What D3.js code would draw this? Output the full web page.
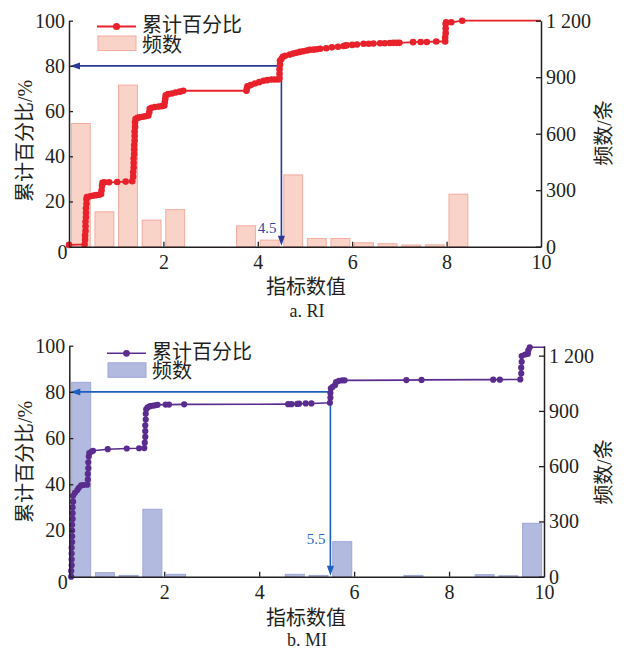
<!DOCTYPE html>
<html><head><meta charset="utf-8">
<script src="https://cdn.jsdelivr.net/npm/d3@7"></script>
<style>body{margin:0;background:#fff}</style>
</head><body><svg id="c" width="624" height="650"></svg>
<script>
// ---------- DATA ----------
const binCenters = [0.25,0.75,1.25,1.75,2.25,2.75,3.25,3.75,4.25,4.75,5.25,5.75,6.25,6.75,7.25,7.75,8.25,8.75,9.25,9.75];
const riCounts = [654,185,858,141,197,0,0,111,35,381,44,44,21,16,9,10,279,0,0,0];
const miCounts = [1055,22,7,366,13,0,0,0,0,13,7,190,0,0,7,0,0,11,5,290];

const riCumulative = [[0,0.8],[0.33,1.0],
[0.34,3],[0.34,5],[0.35,7],[0.35,9],[0.35,11],[0.36,13],[0.36,15],[0.36,17],[0.37,19],[0.37,21],[0.38,22],
[0.45,22.3],[0.52,22.6],[0.58,22.8],[0.64,23],[0.68,23.3],[0.69,25],[0.70,27],[0.71,28.3],[0.75,28.5],[0.85,28.5],[1.02,28.6],[1.2,28.8],[1.34,29],
[1.36,31],[1.36,33],[1.37,35],[1.37,37],[1.37,39],[1.38,41],[1.38,43],[1.38,45],[1.39,47],[1.39,49],[1.39,51],[1.40,53],[1.40,55],[1.41,56.5],[1.45,57],[1.5,57.3],[1.56,57.5],[1.62,57.7],[1.68,58],[1.70,59.5],[1.71,61],[1.75,61.5],[1.82,61.8],[1.9,62],[1.97,62.2],[2.02,62.5],[2.03,64],[2.04,65.5],[2.05,67],[2.1,67.5],[2.18,67.8],[2.26,68.2],[2.35,68.6],[2.42,69],
[3.76,69],[3.77,70],[3.78,71],[3.85,71.5],[3.94,72.2],[4.03,72.8],[4.12,73.4],[4.2,73.7],[4.29,74],[4.36,74],[4.43,74],[4.46,74.5],[4.46,76.5],[4.46,78.5],[4.47,80.5],[4.47,82.3],[4.5,83],[4.53,84],[4.58,84.5],[4.68,85],[4.75,85.5],[4.82,85.8],[4.89,86.2],[4.96,86.5],[5.04,86.8],[5.1,87.1],[5.18,87.2],[5.25,87.4],[5.32,87.6],[5.45,87.8],[5.57,88.2],[5.7,88.5],[5.82,88.8],[5.86,89],[5.88,89.1],[6.0,89.3],[6.1,89.5],[6.24,89.8],[6.35,89.8],[6.45,89.9],[6.59,90],[6.69,90],[6.8,90.1],[6.87,90.2],[6.94,90.2],[7.0,90.2],[7.29,90.5],[7.45,90.6],[7.58,90.6],[7.78,90.8],[7.97,90.8],[7.97,92.5],[7.98,94.5],[7.98,96.5],[7.98,98.5],[7.99,99.3],[8.1,99.3],[8.33,100],[10,100]];

const miCumulative = [[0.04,0],[0.04,2.5],[0.05,5],[0.05,7.5],[0.05,10],[0.05,12.5],[0.06,15],[0.06,17.5],[0.06,20],[0.06,22.5],[0.07,25],[0.07,27.5],[0.07,30],[0.08,32.5],[0.08,35],[0.12,36.3],[0.17,37.5],[0.2,38.5],[0.25,39.5],[0.3,39.7],[0.38,39.8],
[0.39,42],[0.39,44.5],[0.4,47],[0.4,49.5],[0.41,52],[0.42,53.5],[0.47,54.2],[0.5,54.5],[0.81,55.2],[1.21,55.5],[1.47,55.6],[1.58,55.7],
[1.59,58],[1.6,60.5],[1.6,63],[1.6,65.5],[1.61,68],[1.61,70.5],[1.62,72.5],[1.65,73.3],[1.7,73.8],[1.75,74],[1.8,74.2],[1.86,74.4],[2.03,74.5],[2.1,74.5],[2.42,74.6],
[4.61,74.7],[4.68,74.7],[4.8,74.8],[4.84,74.9],[4.98,75],[5.1,75],[5.49,75.3],
[5.5,77.5],[5.5,79.5],[5.51,81.5],[5.55,82.2],[5.6,83],[5.62,84.2],[5.68,84.8],[5.75,85],[5.8,85],
[7.1,85.1],[7.42,85.2],[8.93,85.3],[9.07,85.3],[9.5,85.4],
[9.52,88],[9.52,90.5],[9.53,93],[9.53,95.5],[9.6,96.2],[9.66,96.5],[9.67,98],[9.7,99.3],[10,99.3]];

const xTicks = [0,2,4,6,8,10];
const leftTicks = [20,40,60,80,100];
const rightTicks = [0,300,600,900,1200];
const thresholds = {a:{x:4.5, pct:80, label:"4.5"}, b:{x:5.5, pct:80, label:"5.5"}};
const legendLabels = ["累计百分比","频数"];
const xTitle = "指标数值", leftTitle = "累计百分比/%", rightTitle = "频数/条";

// ---------- DRAW ----------
const svg = d3.select("#c");
const FONT = "'Liberation Serif','Times New Roman','Noto Sans CJK SC',serif";
const fmtRight = d => String(d).replace(/\B(?=(\d{3})+(?!\d))/g, " ");

const panels = [
  {key:"a", caption:"a. RI", counts:riCounts, cum:riCumulative, x0:69, x1:541, yTop:20.7, yBot:246.7, rMax:1200,
   line:"#e8212b", r:3.3, lw:1.8, barFill:"#f9d3c7", barStroke:"#f3aca2", arrow:"#2b3a98", lab:"#2c48a6",
   legX:97, legY:26.5, leftTitleY:141, rightTitleY:133, xTitleY:287, capY:311, labY:228},
  {key:"b", caption:"b. MI", counts:miCounts, cum:miCumulative, x0:69.3, x1:544, yTop:345.7, yBot:576.7, rMax:1254,
   line:"#5b2c8f", r:3.1, lw:1.6, barFill:"#b2badf", barStroke:"#9ea6d6", arrow:"#1d5fbf", lab:"#2a69c2",
   legX:107, legY:353.3, leftTitleY:462, rightTitleY:472, xTitleY:618, capY:639.5, labY:539}
];

panels.forEach(p => {
  const g = svg.append("g");
  const x = d3.scaleLinear().domain([0,10]).range([p.x0,p.x1]);
  const y = d3.scaleLinear().domain([0,100]).range([p.yBot,p.yTop]);
  const yr = d3.scaleLinear().domain([0,p.rMax]).range([p.yBot,p.yTop]);

  // bars
  const bw = x(0.4)-x(0);
  g.append("g").selectAll("rect").data(binCenters.map((c,i)=>({c, n:p.counts[i]})).filter(d=>d.n>0))
    .join("rect")
    .attr("x", d=>x(d.c)-bw/2).attr("width", bw)
    .attr("y", d=>yr(d.n)).attr("height", d=>p.yBot-yr(d.n))
    .attr("fill", p.barFill).attr("stroke", p.barStroke).attr("stroke-width",1);

  // threshold arrows
  const t = thresholds[p.key];
  const ax = x(t.x), ay = y(t.pct);
  g.append("path").attr("d", `M${ax},${ay}H${x(0)+9}M${ax},${ay}V${p.yBot-9}`)
    .attr("stroke", p.arrow).attr("stroke-width",1.6).attr("fill","none");
  g.append("path").attr("d", `M${x(0)+1},${ay}L${x(0)+11},${ay-3.5}L${x(0)+11},${ay+3.5}Z`).attr("fill",p.arrow);
  g.append("path").attr("d", `M${ax},${p.yBot-1}L${ax-3.5},${p.yBot-11}L${ax+3.5},${p.yBot-11}Z`).attr("fill",p.arrow);
  g.append("text").attr("x", ax-5).attr("y", p.labY).attr("text-anchor","end").attr("dominant-baseline","central")
    .attr("font-family",FONT).attr("font-size",15).attr("fill",p.lab).text(t.label);

  // cumulative line
  const line = d3.line().x(d=>x(d[0])).y(d=>y(d[1]));
  g.append("path").datum(p.cum).attr("d", line).attr("fill","none").attr("stroke",p.line).attr("stroke-width",p.lw);
  g.append("g").selectAll("circle").data(p.cum.slice(0,-1)).join("circle")
    .attr("cx", d=>x(d[0])).attr("cy", d=>y(d[1])).attr("r", p.r).attr("fill", p.line);

  // axes
  const axStyle = sel => {
    sel.attr("font-family",FONT);
    sel.selectAll("path.domain").attr("stroke","#231f20").attr("stroke-width",1.5);
    sel.selectAll(".tick line").attr("stroke","#231f20").attr("stroke-width",1.3);
    sel.selectAll("text").attr("font-family",FONT).attr("font-size",20).attr("fill","#231f20");
  };
  g.append("g").attr("transform",`translate(${p.x0},0)`)
    .call(d3.axisLeft(y).tickValues(leftTicks).tickSize(-4).tickSizeOuter(0).tickPadding(4)).call(axStyle);
  g.append("g").attr("transform",`translate(${p.x1},0)`)
    .call(d3.axisRight(yr).tickValues(rightTicks).tickFormat(fmtRight).tickSize(-5).tickSizeOuter(0).tickPadding(5)).call(axStyle);
  const bx = g.append("g").attr("transform",`translate(0,${p.yBot})`)
    .call(d3.axisBottom(x).tickValues(xTicks).tickSize(-5).tickSizeOuter(0).tickPadding(8)).call(axStyle);
  bx.selectAll(".tick").filter(d=>d===0).select("text").attr("dx",-7).attr("dy","0.2em");
  bx.selectAll(".tick").filter(d=>d===0||d===10).select("line").remove();

  // titles
  g.append("text").attr("transform",`translate(25,${p.leftTitleY}) rotate(-90)`).attr("text-anchor","middle")
    .attr("dominant-baseline","central").attr("font-family",FONT).attr("font-size",20).attr("fill","#231f20").text(leftTitle);
  g.append("text").attr("transform",`translate(604,${p.rightTitleY}) rotate(-90)`).attr("text-anchor","middle")
    .attr("dominant-baseline","central").attr("font-family",FONT).attr("font-size",20).attr("fill","#231f20").text(rightTitle);
  g.append("text").attr("x",306).attr("y",p.xTitleY).attr("text-anchor","middle").attr("dominant-baseline","central")
    .attr("font-family",FONT).attr("font-size",20).attr("fill","#231f20").text(xTitle);
  g.append("text").attr("x",307).attr("y",p.capY).attr("text-anchor","middle").attr("dominant-baseline","central")
    .attr("font-family",FONT).attr("font-size",18).attr("fill","#231f20").text(p.caption);

  // legend
  const lg = g.append("g");
  lg.append("line").attr("x1",p.legX).attr("x2",p.legX+39).attr("y1",p.legY).attr("y2",p.legY).attr("stroke",p.line).attr("stroke-width",p.lw);
  lg.append("circle").attr("cx",p.legX+19.5).attr("cy",p.legY).attr("r",p.r+0.3).attr("fill",p.line);
  lg.append("rect").attr("x",p.legX+1).attr("y",p.legY+9.5).attr("width",38).attr("height",14.5)
    .attr("fill",p.barFill).attr("stroke",p.barStroke);
  lg.append("text").attr("x",p.legX+45).attr("y",p.legY-1.5).attr("dominant-baseline","central")
    .attr("font-family",FONT).attr("font-size",20).attr("fill","#231f20").text(legendLabels[0]);
  lg.append("text").attr("x",p.legX+45).attr("y",p.legY+18).attr("dominant-baseline","central")
    .attr("font-family",FONT).attr("font-size",20).attr("fill","#231f20").text(legendLabels[1]);
});
</script></body></html>
